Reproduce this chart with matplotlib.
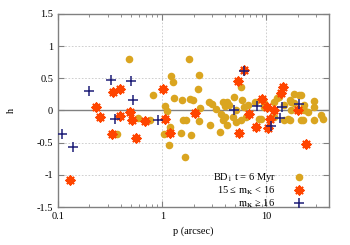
import matplotlib
matplotlib.use("Agg")
import matplotlib.pyplot as plt
from matplotlib.ticker import LogLocator, FixedLocator, NullFormatter

# BD1 t = 6 Myr (gold circles)
bd_p = [0.37, 0.48, 0.59, 0.76, 0.81, 1.03, 1.06, 1.11, 1.16, 1.19, 1.21, 1.27, 1.29,
        1.50, 1.56, 1.60, 1.68, 1.67, 1.80, 1.84, 1.90, 1.98, 2.22, 2.25, 2.28, 2.31,
        2.80, 2.85, 3.0, 3.3, 3.6, 3.7, 3.8, 3.8, 4.05, 4.2, 4.2, 4.4, 4.0, 4.8,
        4.9, 5.1, 5.1, 5.7, 5.7, 5.9, 6.1, 6.4, 6.6, 7.7, 8.5, 8.9, 9.6, 9.6, 11.9,
        11.9, 12.7, 13.3, 14.7, 14.7, 16.0, 16.7, 16.7, 17.2, 17.2, 18.5, 18.5, 20.5,
        21.5, 21.5, 22.5, 23.2, 23.2, 24.9, 28.6, 28.8, 28.8, 33.4, 35.3]
bd_h = [-0.36, 0.80, -0.11, -0.15, 0.24, -0.36, 0.07, -0.01, -0.53, -0.26, 0.54, 0.45, 0.20,
        -0.35, 0.16, -0.14, -0.14, -0.72, 0.80, 0.18, -0.38, 0.16, 0.34, 0.55, -0.17, 0.04,
        0.13, -0.23, 0.10, 0.03, -0.33, -0.05, 0.13, -0.14, 0.07, 0.13, -0.23, 0.08, -0.10, -0.10,
        0.21, 0.0, -0.18, 0.36, -0.15, 0.17, 0.06, -0.10, 0.08, 0.13, -0.13, -0.13, 0.06, 0.11, 0.13,
        -0.10, 0.19, 0.21, 0.08, -0.15, -0.13, 0.16, -0.15, 0.0, 0.13, 0.25, 0.11, 0.24,
        0.24, -0.15, -0.15, 0.08, 0.0, -0.02, 0.15, 0.06, -0.15, -0.07, -0.13]

# 15 <= mK < 16 (red asterisks)
mid_p = [0.13, 0.23, 0.25, 0.33, 0.34, 0.39, 0.39, 0.49, 0.51, 0.56, 0.68, 1.02, 1.07, 1.18,
         2.08, 5.4, 5.5, 6.1, 6.8, 7.9, 9.0, 10.2, 10.4, 10.8, 11.8, 13.9, 14.5, 20.0, 24.3]
mid_h = [-1.08, 0.05, -0.10, -0.36, 0.29, 0.34, -0.08, -0.02, -0.14, -0.42, -0.17, 0.34, -0.13, -0.35,
         -0.04, 0.46, -0.35, 0.63, -0.06, -0.26, 0.18, 0.06, -0.27, -0.13, 0.01, 0.27, 0.37, 0.0, -0.52]

# mK >= 16 (blue plus)
faint_p = [0.11, 0.14, 0.20, 0.32, 0.35, 0.50, 0.52, 0.92, 4.9, 6.1, 8.1, 11.2, 13.6, 14.0, 20.5]
faint_h = [-0.36, -0.57, 0.30, 0.48, -0.13, 0.46, 0.17, -0.14, 0.0, 0.62, 0.07, -0.24, -0.11, 0.06, 0.10]

y_ticks = [-1.5, -1, -0.5, 0, 0.5, 1, 1.5]
y_tick_labels = ["-1.5", "-1", "-0.5", "0", "0.5", "1", "1.5"]
x_ticks = [0.1, 1, 10]
x_tick_labels = ["0.1", "1", "10"]

plt.rcParams['font.family'] = ['Liberation Serif', 'DejaVu Serif']
plt.rcParams['font.size'] = 7.5
plt.rcParams['mathtext.fontset'] = 'stix'

fig = plt.figure(figsize=(3.5, 2.45), dpi=100)
ax = fig.add_axes([0.166, 0.155, 0.774, 0.788])

gold = '#DAA520'
red = '#FF4500'
blue = '#1E1E78'
grey = '#808080'

ax.axhline(0, color=grey, lw=1.0, zorder=1)
ax.scatter(bd_p, bd_h, s=30, color=gold, marker='o', linewidths=0, zorder=3,
           label=r'BD$_1$ t = 6 Myr')
ax.scatter(mid_p, mid_h, s=34, color=red, marker=(8, 2, 0), linewidths=1.5, zorder=4,
           label=r'15 ≤ m$_\mathrm{K}$ < 16')
ax.scatter(faint_p, faint_h, s=55, color=blue, marker='+', linewidths=1.1, zorder=5,
           label=r'm$_\mathrm{K}$ ≥ 16')

ax.set_xscale('log')
ax.set_xlim(0.1, 40)
ax.set_ylim(-1.5, 1.5)
ax.xaxis.set_major_locator(FixedLocator(x_ticks))
ax.set_xticklabels(x_tick_labels)
ax.xaxis.set_minor_locator(LogLocator(base=10, subs=range(2, 10)))
ax.xaxis.set_minor_formatter(NullFormatter())
ax.set_yticks(y_ticks)
ax.set_yticklabels(y_tick_labels)

ax.grid(True, which='major', color='#c8c8c8', linestyle=(0, (2, 2)), lw=0.6, zorder=0)
ax.set_axisbelow(True)

for s in ax.spines.values():
    s.set_color(grey)
    s.set_linewidth(1.0)
ax.tick_params(which='both', direction='in', top=True, right=True, color=grey)
ax.tick_params(which='major', length=4, width=0.8, labelcolor='black')
ax.tick_params(which='minor', length=2, width=0.6)

ax.set_xlabel('p (arcsec)', labelpad=4)
ax.set_ylabel('h', labelpad=15)

leg = ax.legend(loc='lower right', frameon=False, markerfirst=False, handletextpad=1.8,
                labelspacing=0.05, borderaxespad=0.0, handlelength=1.0,
                bbox_to_anchor=(0.925, -0.035))
for t in leg.get_texts():
    t.set_ha('right')

fig.savefig('out.png', dpi=100)
